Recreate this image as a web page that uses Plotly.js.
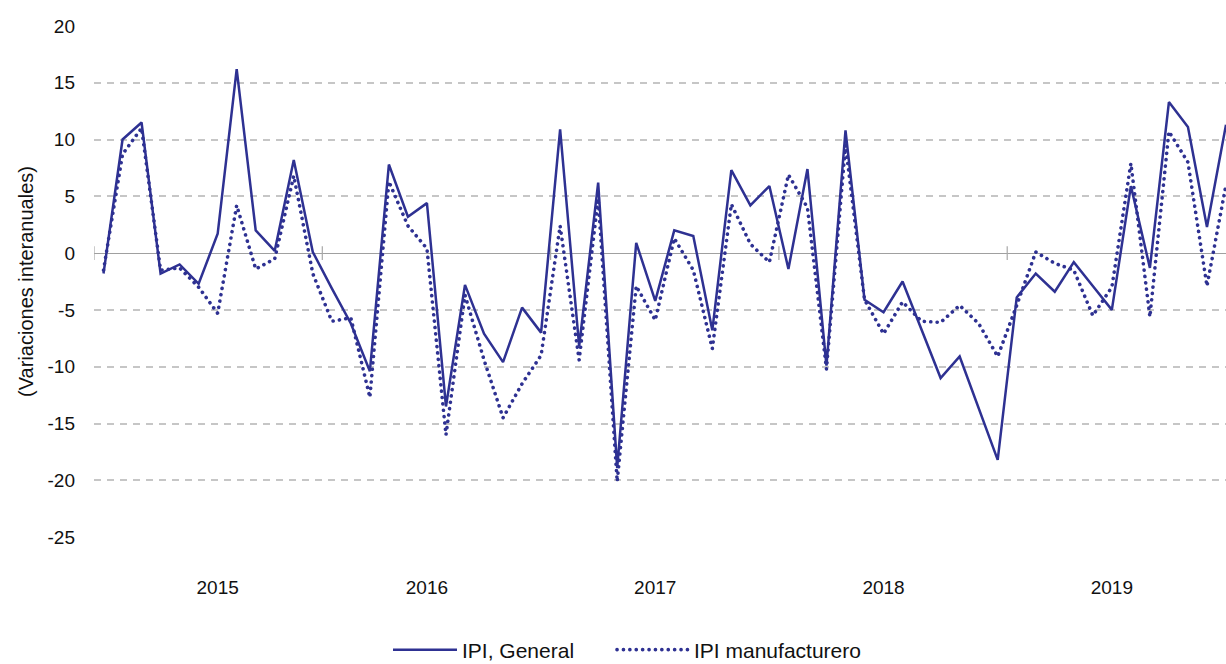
<!DOCTYPE html>
<html>
<head>
<meta charset="utf-8">
<script src="https://cdn.plot.ly/plotly-3.0.1.min.js"></script>
<style>
  html, body { margin: 0; padding: 0; background: #fff; }
  #chart { width: 1226px; height: 664px; }
  .scatterlayer .trace:nth-child(2) path.js-line, .legend2 path.js-line { stroke-linecap: round; }
</style>
</head>
<body>
<div id="chart"></div>
<script>
// Months Jan 2015 .. Dec 2019 (index 0..59)
const months = [];
for (let y = 2015; y <= 2019; y++) for (let m = 1; m <= 12; m++) months.push(y + '-' + String(m).padStart(2, '0'));

const yearLabels = ['2015', '2016', '2017', '2018', '2019'];
const yearLabelPos = [6, 17, 29, 41, 53];
const yearBoundaries = [-0.5, 11.5, 23.5, 35.5, 47.5];

const ipiGeneral = [
  -1.8, 10.0, 11.5, -1.8, -1.0, -2.7, 1.7, 16.2, 2.0, 0.2, 8.2, 0.1,
  -3.1, -6.2, -10.4, 7.8, 3.2, 4.4, -13.5, -2.8, -7.1, -9.6, -4.8, -7.0,
  10.9, -8.2, 6.2, -18.9, 0.9, -4.2, 2.0, 1.5, -6.8, 7.3, 4.2, 5.9,
  -1.4, 7.4, -9.9, 10.8, -4.1, -5.2, -2.5, -6.8, -11.0, -9.1, -13.6, -18.2,
  -3.9, -1.8, -3.4, -0.8, -2.9, -5.0, 5.9, -1.3, 13.3, 11.1, 2.3, 11.3
];
const ipiManuf = [
  -1.5, 8.7, 11.0, -1.5, -1.3, -3.0, -5.3, 4.2, -1.4, -0.5, 6.8, -1.8,
  -6.0, -5.7, -12.7, 6.3, 2.4, 0.4, -16.0, -3.7, -9.4, -14.5, -11.5, -9.0,
  2.4, -9.4, 4.8, -20.1, -2.9, -5.9, 1.3, -1.5, -8.4, 4.3, 0.8, -0.8,
  6.9, 4.0, -10.2, 9.5, -4.1, -7.1, -4.3, -6.0, -6.1, -4.6, -6.2, -9.1,
  -4.6, 0.1, -0.9, -1.5, -5.5, -3.0, 7.9, -5.6, 10.7, 8.0, -2.9, 6.0
];
const yTicks = [-25, -20, -15, -10, -5, 0, 5, 10, 15, 20];
const yTickText = ['-25', '-20', '-15', '-10', '-5', '0', '5', '10', '15', '20'];

const xIdx = months.map((_, i) => i);
const lineColor = '#2e3192';
const font = 'Liberation Sans, Arial, Helvetica, sans-serif';
const textColor = '#111111';

const traces = [
  { x: xIdx, y: ipiGeneral, text: months, type: 'scatter', mode: 'lines', name: 'IPI, General',
    legend: 'legend', line: { color: lineColor, width: 2.5 } },
  { x: xIdx, y: ipiManuf, text: months, type: 'scatter', mode: 'lines', name: 'IPI manufacturero',
    legend: 'legend2', line: { color: lineColor, width: 3.6, dash: '0.1px,6.3px' } }
];

const shapes = yearBoundaries.map(b => ({
  type: 'line', xref: 'x', yref: 'y', x0: b, x1: b, y0: -0.6, y1: 0.6,
  line: { color: '#a8a8a8', width: 1.2 }
}));

const legendBase = {
  orientation: 'h', xref: 'container', yref: 'container', xanchor: 'left',
  y: 14 / 664, yanchor: 'middle',
  font: { family: font, size: 21, color: textColor },
  bgcolor: 'rgba(0,0,0,0)'
};

const layout = {
  width: 1226, height: 664,
  margin: { l: 94, r: 0, t: 25, b: 126 },
  paper_bgcolor: '#fff', plot_bgcolor: '#fff',
  font: { family: font, size: 19, color: textColor },
  showlegend: true,
  legend: Object.assign({}, legendBase, { x: 388 / 1226, itemwidth: 64 }),
  legend2: Object.assign({}, legendBase, { x: 612 / 1226, itemwidth: 72 }),
  xaxis: {
    range: [-0.5, 59.0], showgrid: false, zeroline: false, showline: false,
    tickmode: 'array', tickvals: yearLabelPos, ticktext: yearLabels, ticks: '',
    ticklabelstandoff: 36, tickfont: { size: 19, color: textColor }, fixedrange: true
  },
  yaxis: {
    range: [-25.08, 20.08], tickmode: 'array', tickvals: yTicks, ticktext: yTickText,
    showgrid: true, gridcolor: '#c6c6c6', gridwidth: 2, griddash: '7px,6px',
    zeroline: true, zerolinecolor: '#a0a0a0', zerolinewidth: 1.2,
    showline: false, ticks: '', ticklabelstandoff: 18,
    tickfont: { size: 19, color: textColor },
    title: { text: '(Variaciones interanuales)', font: { size: 20, color: textColor }, standoff: 8 },
    automargin: false, fixedrange: true
  },
  shapes: shapes
};

Plotly.newPlot('chart', traces, layout, { displayModeBar: false, staticPlot: true });
</script>
</body>
</html>
